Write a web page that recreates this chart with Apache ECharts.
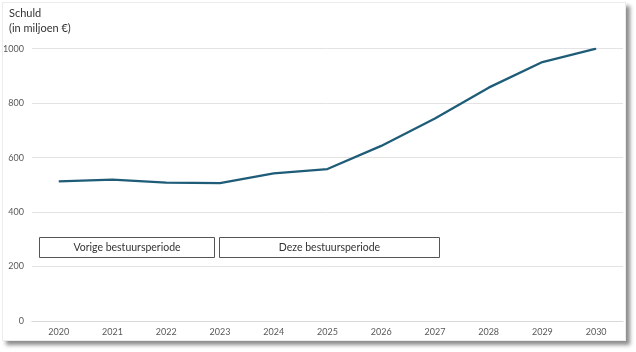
<!DOCTYPE html>
<html>
<head>
<meta charset="utf-8">
<script src="https://cdn.jsdelivr.net/npm/echarts@6/dist/echarts.min.js"></script>
<style>
  html, body { margin: 0; padding: 0; background: #ffffff; }
  #wrap { position: relative; width: 636px; height: 352px; overflow: hidden; }
  #card { position: absolute; left: 2px; top: 2px; width: 622px; height: 337px;
          background: #fff; border: 1px solid #ececec;
          box-shadow: 4px 4px 4px rgba(0,0,0,0.45); }
  #chart { position: absolute; left: 0; top: 0; width: 636px; height: 352px; }
</style>
</head>
<body>
<div id="wrap">
  <div id="card"></div>
  <div id="chart"></div>
</div>
<script>
const years = ['2020','2021','2022','2023','2024','2025','2026','2027','2028','2029','2030'];
const schuld = [513, 519, 508, 506, 542, 558, 643, 744, 857, 951, 1000];
const yTicks = [0, 200, 400, 600, 800, 1000];
const titleLines = ['Schuld', '(in miljoen €)'];
const periodLabels = ['Vorige bestuursperiode', 'Deze bestuursperiode'];

const FONT = 'Lato, "Open Sans", sans-serif';
const chart = echarts.init(document.getElementById('chart'), null, { renderer: 'canvas' });

chart.setOption({
  backgroundColor: 'transparent',
  animation: false,
  grid: { left: 31, right: 13, top: 48.7, bottom: 31 },
  xAxis: {
    type: 'category',
    data: years,
    boundaryGap: true,
    axisLine: { show: true, lineStyle: { color: '#d9d9d9', width: 1 } },
    axisTick: { show: false },
    axisLabel: { color: '#595959', fontSize: 9, fontFamily: FONT, margin: 7 }
  },
  yAxis: {
    type: 'value',
    min: yTicks[0],
    max: yTicks[yTicks.length - 1],
    interval: yTicks[1] - yTicks[0],
    axisLine: { show: false },
    axisTick: { show: false },
    splitLine: { lineStyle: { color: '#e3e3e3', width: 1 } },
    axisLabel: { color: '#595959', fontSize: 9, fontFamily: FONT, margin: 8,
                 formatter: function (v) { return String(v); } }
  },
  series: [{
    type: 'line',
    data: schuld,
    symbol: 'none',
    lineStyle: { color: '#1f5c78', width: 2.3 },
    smooth: false
  }],
  graphic: [
    { type: 'text', left: 9, top: 6,
      style: { text: titleLines.join('\n'), fill: '#333333', font: '11px ' + FONT, lineHeight: 15 } },
    { type: 'rect', shape: { x: 39.5, y: 237.5, width: 175, height: 20 },
      style: { fill: '#ffffff', stroke: '#555555', lineWidth: 1 } },
    { type: 'text', x: 127, y: 247.5,
      style: { text: periodLabels[0], fill: '#333333', font: '10.5px ' + FONT, align: 'center', verticalAlign: 'middle' } },
    { type: 'rect', shape: { x: 219.5, y: 237.5, width: 220, height: 20 },
      style: { fill: '#ffffff', stroke: '#555555', lineWidth: 1 } },
    { type: 'text', x: 329.5, y: 247.5,
      style: { text: periodLabels[1], fill: '#333333', font: '10.5px ' + FONT, align: 'center', verticalAlign: 'middle' } }
  ]
});
</script>
</body>
</html>
